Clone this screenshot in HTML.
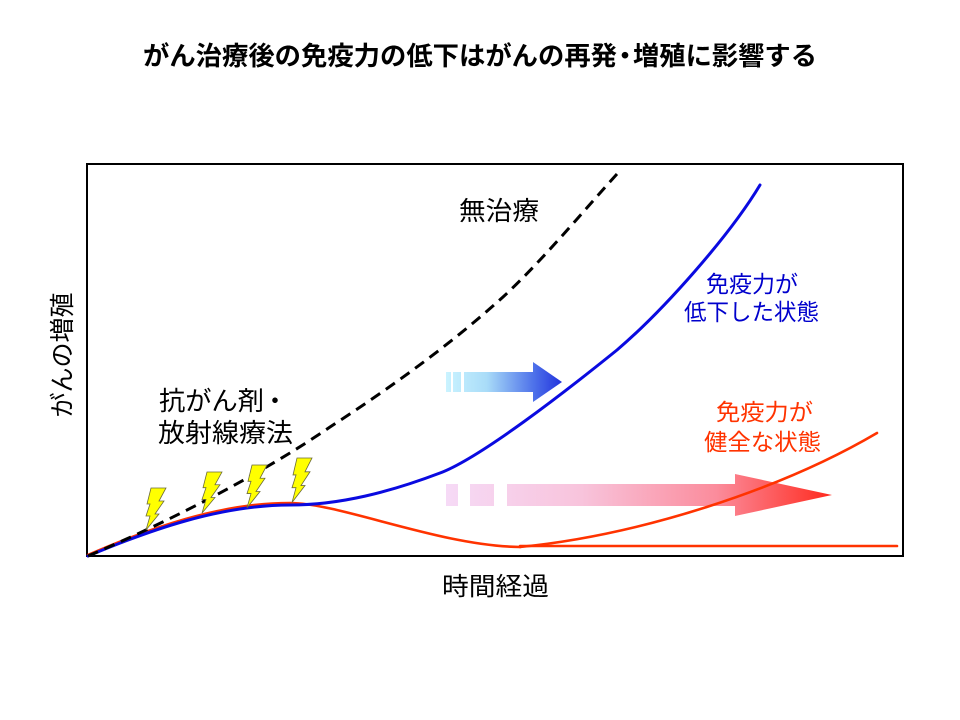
<!DOCTYPE html>
<html>
<head>
<meta charset="utf-8">
<style>
  html, body { margin: 0; padding: 0; background: #ffffff; }
  body { width: 960px; height: 720px; overflow: hidden; }
  svg { display: block; }
  text { font-family: "Liberation Sans", "Noto Sans CJK JP", sans-serif; }
</style>
</head>
<body>
<svg width="960" height="720" viewBox="0 0 960 720" xmlns="http://www.w3.org/2000/svg">
  <defs>
    <linearGradient id="gBlue" gradientUnits="userSpaceOnUse" x1="446" y1="0" x2="562" y2="0">
      <stop offset="0" stop-color="#caf3ff"/>
      <stop offset="0.35" stop-color="#a9dcf8"/>
      <stop offset="0.75" stop-color="#4f73ea"/>
      <stop offset="1" stop-color="#2233dd"/>
    </linearGradient>
    <linearGradient id="gRed" gradientUnits="userSpaceOnUse" x1="446" y1="0" x2="832" y2="0">
      <stop offset="0" stop-color="#f6daf6"/>
      <stop offset="0.35" stop-color="#f8c4dc"/>
      <stop offset="0.7" stop-color="#fb8c9c"/>
      <stop offset="1" stop-color="#ff2a1e"/>
    </linearGradient>
    <polygon id="bolt" points="5,0 20,0 13,13 18,13 9,26 13,26 0,42 4,28 0,28 4,16 1,16" fill="#ffff00" stroke="#6b6b3a" stroke-width="0.8" stroke-linejoin="miter"/>
  </defs>

  <rect x="0" y="0" width="960" height="720" fill="#ffffff"/>

  <!-- Title -->
  <text x="143" y="56" font-size="26" font-weight="bold" fill="#000" dominant-baseline="central" textLength="474" lengthAdjust="spacingAndGlyphs">がん治療後の免疫力の低下はがんの再発</text>
  <text x="625" y="56" font-size="26" font-weight="bold" fill="#000" dominant-baseline="central" text-anchor="middle">・</text>
  <text x="633" y="56" font-size="26" font-weight="bold" fill="#000" dominant-baseline="central" textLength="184" lengthAdjust="spacingAndGlyphs">増殖に影響する</text>

  <!-- Frame -->
  <rect x="87" y="164" width="816" height="392" fill="none" stroke="#000" stroke-width="2"/>

  <!-- Arrows -->
  <g fill="url(#gBlue)">
    <rect x="446" y="372" width="5" height="20"/>
    <rect x="453" y="372" width="8" height="20"/>
    <rect x="464" y="372" width="70" height="20"/>
    <polygon points="533,362 562,382 533,402"/>
  </g>
  <g fill="url(#gRed)">
    <rect x="446" y="484" width="12" height="22"/>
    <rect x="470" y="484" width="24" height="22"/>
    <rect x="507" y="484" width="229" height="22"/>
    <polygon points="735,474 832,495 735,516"/>
  </g>

  <!-- Red curves -->
  <g fill="none" stroke="#ff3300" stroke-width="2.6" stroke-linecap="round" stroke-linejoin="round">
    <path d="M88,555 C150,528 220,503 290,503 C340,503 440,546 520,547"/>
    <path d="M520,546 L897,546"/>
    <path d="M520,547 C640,535 780,490 877,433"/>
  </g>

  <!-- Blue curve -->
  <path d="M88,556 C150,530 220,505 290,505 C340,505 390,492 440,473 C480,458 565,392 617,350 C664,310 730,235 760,185"
        fill="none" stroke="#0a0ae0" stroke-width="3" stroke-linecap="round" stroke-linejoin="round"/>

  <!-- Black dashed curve -->
  <path d="M88,556 C170,521 260,475 330,427 C390,388 450,345 503,297 C540,263 580,215 617,174"
        fill="none" stroke="#000" stroke-width="3" stroke-dasharray="11 7"/>

  <!-- Lightning bolts -->
  <use href="#bolt" transform="translate(146,488)"/>
  <use href="#bolt" transform="translate(202,472) scale(1,0.98)"/>
  <use href="#bolt" transform="translate(247,465) scale(1,1.02)"/>
  <use href="#bolt" transform="translate(292,458) scale(1,1.06)"/>

  <!-- Labels -->
  <text x="459" y="211" font-size="26" fill="#000" dominant-baseline="central" textLength="80" lengthAdjust="spacingAndGlyphs">無治療</text>

  <text x="706" y="284" font-size="23" fill="#0000cc" dominant-baseline="central" textLength="92" lengthAdjust="spacingAndGlyphs">免疫力が</text>
  <text x="684" y="312" font-size="23" fill="#0000cc" dominant-baseline="central" textLength="135" lengthAdjust="spacingAndGlyphs">低下した状態</text>

  <text x="716" y="412" font-size="23" fill="#ff3300" dominant-baseline="central" textLength="97" lengthAdjust="spacingAndGlyphs">免疫力が</text>
  <text x="704" y="442" font-size="23" fill="#ff3300" dominant-baseline="central" textLength="117" lengthAdjust="spacingAndGlyphs">健全な状態</text>

  <text x="159" y="401" font-size="26" fill="#000" dominant-baseline="central" textLength="105" lengthAdjust="spacingAndGlyphs">抗がん剤</text>
  <text x="275" y="401" font-size="26" fill="#000" dominant-baseline="central" text-anchor="middle">・</text>
  <text x="158" y="433" font-size="26" fill="#000" dominant-baseline="central" textLength="135" lengthAdjust="spacingAndGlyphs">放射線療法</text>

  <text x="442" y="587" font-size="25" fill="#000" dominant-baseline="central" textLength="107" lengthAdjust="spacingAndGlyphs">時間経過</text>

  <text transform="translate(63,355) rotate(-90)" x="0" y="0" font-size="25" fill="#000" text-anchor="middle" dominant-baseline="central" textLength="125" lengthAdjust="spacingAndGlyphs">がんの増殖</text>
</svg>
</body>
</html>
